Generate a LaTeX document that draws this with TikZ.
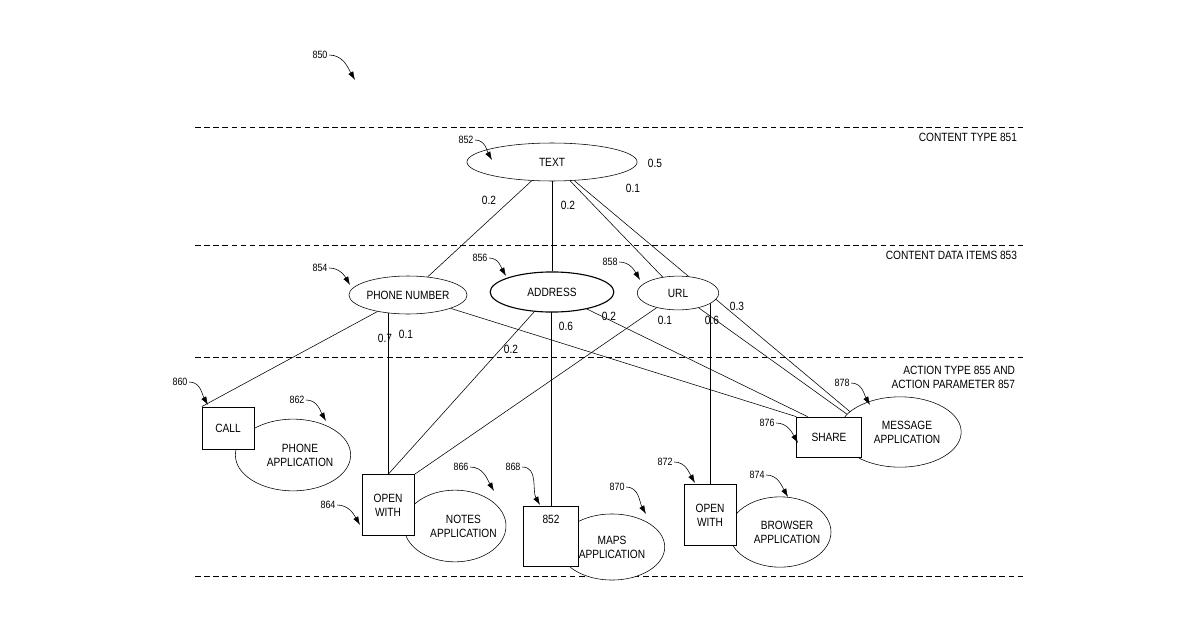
\documentclass[tikz,border=0pt]{standalone}
\usepackage{fontspec}
\setmainfont{Liberation Sans}[FakeStretch=0.85]
\usetikzlibrary{arrows.meta,backgrounds,shapes.geometric}
\begin{document}
\begin{tikzpicture}[x=0.025cm,y=-0.025cm,
    every node/.style={font=\fontsize{8.5}{10}\selectfont},
    item/.style={draw,ellipse,fill=white,inner sep=0pt},
    act/.style={draw,rectangle,fill=white,inner sep=0pt,align=center},
    app/.style={draw,ellipse,fill=white,inner xsep=-14pt,inner ysep=-4pt,align=center},
    wt/.style={inner sep=1pt},
    refn/.style={inner sep=1pt,font=\fontsize{7.5}{9}\selectfont},
    lead/.style={-{Latex[length=6pt,width=4pt]}}]
  \useasboundingbox (0,0) rectangle (1200,630);
  % Level separators
  \foreach \yy in {127,245,357,576} {
    \draw [dash pattern=on 4pt off 2.5pt] (195,\yy) -- (1025,\yy);
  }
  \node [anchor=east] at (1022,137) {CONTENT TYPE 851};
  \node [anchor=east] at (1022,255) {CONTENT DATA ITEMS 853};
  \node [anchor=east,align=right] at (1020,377) {ACTION TYPE 855 AND\\ACTION PARAMETER 857};
  % Content type and data items
  \node [item,minimum width=121pt,minimum height=27pt] (text) at (552,162) {TEXT};
  \node [item,minimum width=84pt,minimum height=27pt] (phone) at (408,295) {PHONE NUMBER};
  \node [item,thick,minimum width=88pt,minimum height=28.5pt] (addr) at (552,292) {ADDRESS};
  \node [item,minimum width=58pt,minimum height=24pt] (url) at (678,293) {URL};
  % Applications
  \node [app,minimum width=82pt,minimum height=51pt] (phoneapp) at (293,455) {\hspace*{10pt}PHONE\\\hspace*{10pt}APPLICATION};
  \node [app,minimum width=72.5pt,minimum height=51pt] (notesapp) at (455,526) {\hspace*{12pt}NOTES\\\hspace*{12pt}APPLICATION};
  \node [app,minimum width=75pt,minimum height=47pt] (mapsapp) at (612,547) {MAPS\\APPLICATION};
  \node [app,minimum width=72.5pt,minimum height=50pt] (browserapp) at (780,532) {\hspace*{10pt}BROWSER\\\hspace*{10pt}APPLICATION};
  \node [app,minimum width=87pt,minimum height=50pt] (msgapp) at (900,432) {\hspace*{10pt}MESSAGE\\\hspace*{10pt}APPLICATION};
  % Action types
  \node [act,minimum width=37pt,minimum height=30pt] (call) at (228,428) {CALL};
  \node [act,minimum width=37pt,minimum height=43pt] (open1) at (388,505) {OPEN\\WITH};
  \node [act,minimum width=39pt,minimum height=43pt,anchor=north] (maps) at (551,506) {852\\[14pt]};
  \node [act,minimum width=37pt,minimum height=43pt] (open2) at (710,515) {OPEN\\WITH};
  \node [act,minimum width=46pt,minimum height=28.5pt] (share) at (829,437) {SHARE};
  % Connectors
  \begin{scope}[on background layer]
    \draw (text) -- (phone);
    \draw (text) -- (addr);
    \draw (text) -- (url);
    \draw (text) -- ([xshift=-4pt]share.north east);
    \draw (phone) -- (call.north west);
    \draw (open1.north) -- (open1 |- phone.center);
    \draw (phone) -- (share.north west);
    \draw (addr) -- (open1.north);
    \draw (maps.north) -- (maps |- addr.center);
    \draw (addr) -- ([xshift=8pt]share.north west);
    \draw (url) -- (open1.north east);
    \draw (open2.north) -- (open2 |- url.center);
    \draw (url) -- ([xshift=-8pt]share.north east);
  \end{scope}
  % Weights
  \node [wt] (w1) at (489,200) {0.2};
  \node [wt] (w2) at (568,205) {0.2};
  \node [wt] (w3) at (633,188) {0.1};
  \node [wt] (w4) at (655,163) {0.5};
  \node [wt] (w5) at (385,338) {0.7};
  \node [wt] (w6) at (406,334) {0.1};
  \node [wt] (w7) at (511,349) {0.2};
  \node [wt] (w8) at (566,326) {0.6};
  \node [wt] (w9) at (609,316) {0.2};
  \node [wt] (w10) at (665,320) {0.1};
  \node [wt] (w11) at (712,320) {0.6};
  \node [wt] (w12) at (737,306) {0.3};
  % Reference numerals
  \foreach \lab/\lx/\ly/\tx/\ty in {
    850/320/55/355/80, 852/466/140/492/160, 854/320/268/350/285,
    856/480/258/506/276, 858/610/262/640/280, 860/180/382/208/405,
    862/297/400/326/421, 864/328/505/360/525, 866/461/467/494/491,
    868/513/467/540/505, 870/617/487/646/514, 872/665/462/695/483,
    874/757/475/788/497, 876/767/423/798/443, 878/842/383/870/405} {
    \node [refn] (r\lab) at (\lx,\ly) {\lab};
    \coordinate (t\lab) at (\tx,\ty);
    \draw [lead] (r\lab.east) to [out=0,in=120] (t\lab);
  }
\end{tikzpicture}
\end{document}
